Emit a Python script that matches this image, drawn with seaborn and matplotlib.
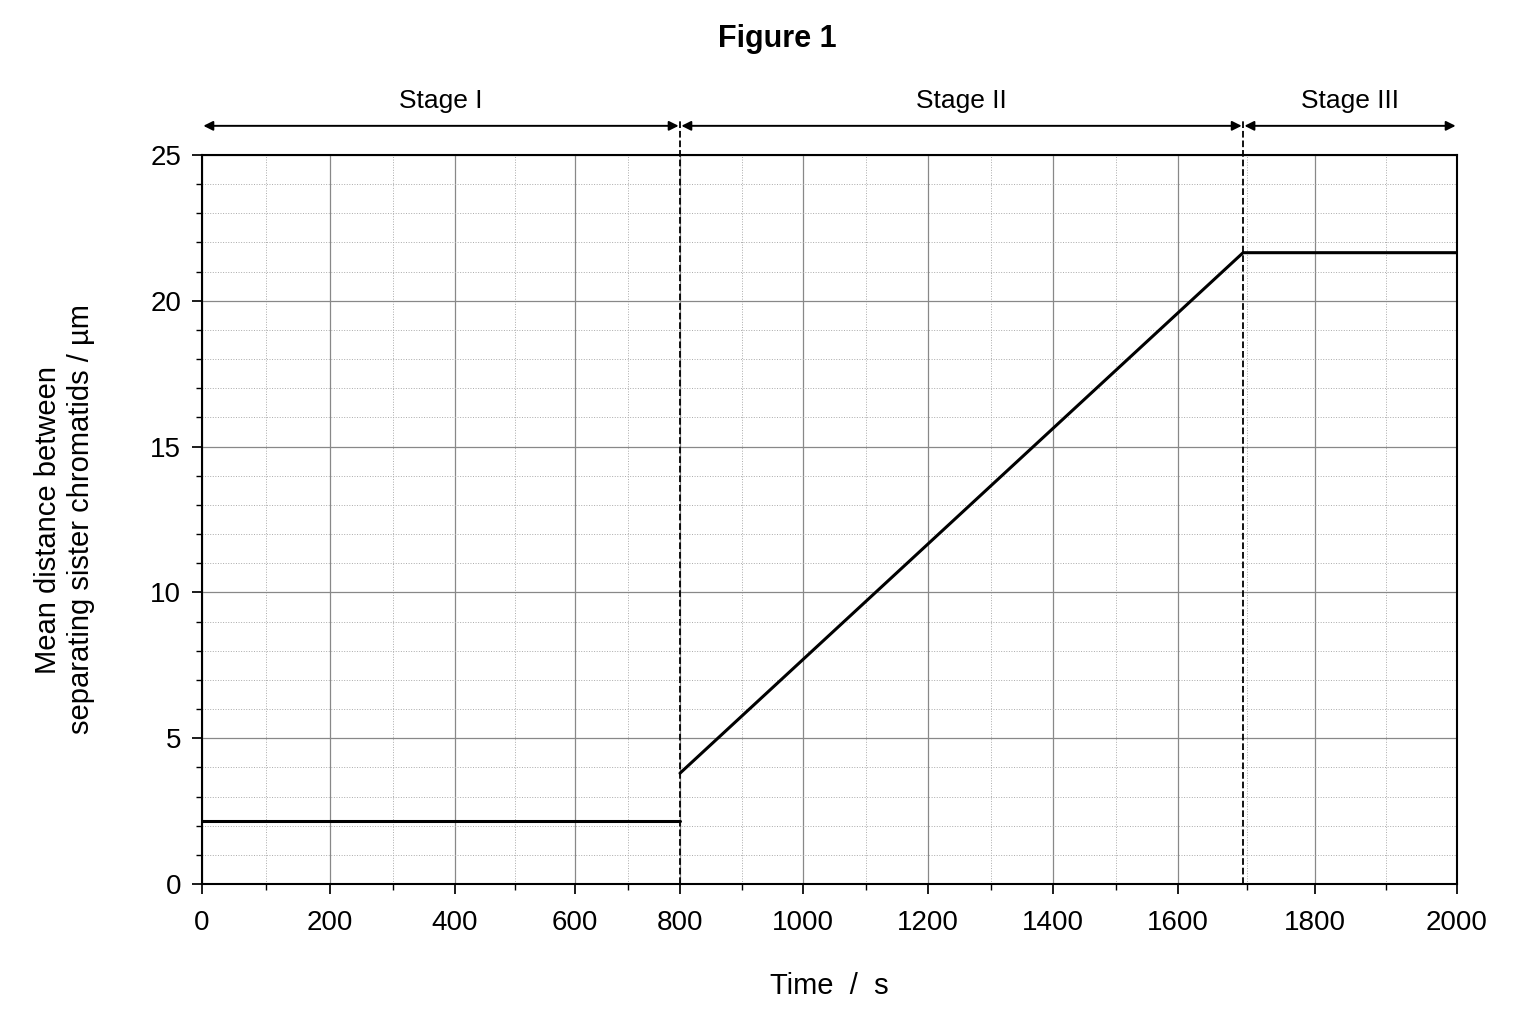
import matplotlib
matplotlib.use("Agg")
import matplotlib.pyplot as plt
import numpy as np
import seaborn as sns

# data
time_s = [0, 800, 800, 1695, 2000]
distance_um = [2.15, 2.15, 3.8, 21.65, 21.65]
stage_bounds = [0, 800, 1695, 2000]
stage_names = ["Stage I", "Stage II", "Stage III"]
x_ticks = [0, 200, 400, 600, 800, 1000, 1200, 1400, 1600, 1800, 2000]
# the reference axis is slightly uneven; pixel positions of its ticks
x_tick_px = [202, 330, 455, 575, 680, 803, 928, 1053, 1178, 1315, 1457]

sns.set_theme(style="white")
plt.rcParams["font.family"] = ["Liberation Sans", "DejaVu Sans"]
plt.rcParams["text.color"] = "black"
plt.rcParams["axes.labelcolor"] = "black"
plt.rcParams["xtick.color"] = "black"
plt.rcParams["ytick.color"] = "black"

fwd = lambda v: np.interp(v, x_ticks, x_tick_px)
inv = lambda p: np.interp(p, x_tick_px, x_ticks)

fig = plt.figure(figsize=(15.36, 10.24), dpi=100)
ax = fig.add_axes([202 / 1536, 140 / 1024, 1255 / 1536, 729 / 1024])
ax.set_xscale("function", functions=(fwd, inv))

sns.lineplot(x=time_s[:2], y=distance_um[:2], ax=ax, color="black", lw=2.2)
sns.lineplot(x=time_s[2:], y=distance_um[2:], ax=ax, color="black", lw=2.2, sort=False)

ax.set_xlim(0, 2000)
ax.set_ylim(0, 25)
ax.set_xticks(x_ticks)
ax.set_xticks(range(100, 2000, 200), minor=True)
ax.set_yticks(range(0, 26, 5))
ax.set_yticks(range(0, 26), minor=True)
ax.grid(which="major", color="#888888", lw=0.9)
ax.grid(which="minor", color="#aaaaaa", lw=0.7, ls=":")
ax.tick_params(which="both", direction="out", bottom=True, left=True, labelsize=20)
ax.tick_params(axis="x", which="major", pad=12)
ax.tick_params(axis="y", which="major", pad=8)
ax.tick_params(which="major", length=7)
ax.tick_params(which="minor", length=4)
for s in ax.spines.values():
    s.set_color("black")
    s.set_linewidth(1.5)

for b in stage_bounds[1:-1]:
    ax.axvline(b, color="black", ls="--", lw=1.3, ymax=1.05, clip_on=False)

trans = ax.get_xaxis_transform()
for lo, hi, name in zip(stage_bounds[:-1], stage_bounds[1:], stage_names):
    ax.annotate("", xy=(lo, 1.04), xytext=(hi, 1.04), xycoords=trans, textcoords=trans,
                arrowprops=dict(arrowstyle="<|-|>", color="black", lw=1.4,
                                shrinkA=1, shrinkB=1, mutation_scale=14))
    mid = inv((fwd(lo) + fwd(hi)) / 2)
    ax.text(mid, 1.057, name, transform=trans, ha="center", va="bottom", fontsize=19)

ax.set_xlabel("Time  /  s", fontsize=21, labelpad=26)
ax.set_ylabel("Mean distance between\nseparating sister chromatids / µm", fontsize=21, labelpad=40)
fig.text(0.506, 0.962, "Figure 1", ha="center", va="center", fontsize=22, fontweight="bold")

fig.savefig("out.png", dpi=100)
